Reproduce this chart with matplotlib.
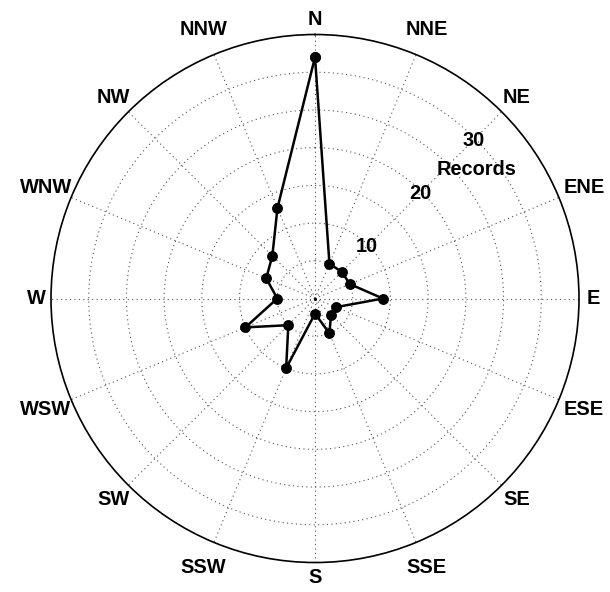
import numpy as np
import matplotlib
matplotlib.use("Agg")
import matplotlib.pyplot as plt

plt.rcParams['font.family'] = ['Liberation Sans', 'DejaVu Sans']

# wind directions, clockwise from north
directions = ['N', 'NNE', 'NE', 'ENE', 'E', 'ESE', 'SE', 'SSE',
              'S', 'SSW', 'SW', 'WSW', 'W', 'WNW', 'NW', 'NNW']
records = [32, 5, 5, 5, 9, 3, 3, 5, 2, 10, 5, 10, 5, 7, 8, 13]
ring_values = [5, 10, 15, 20, 25, 30]
ring_labels = [10, 20, 30]
r_max = 35

angles = np.deg2rad(np.arange(len(directions)) * 360.0 / len(directions))

fig = plt.figure(figsize=(6.1, 5.92), dpi=100)
ax = fig.add_axes([0.0836, 0.0498, 0.8656, 0.8919], projection='polar')
ax.set_theta_zero_location('N')
ax.set_theta_direction(-1)
ax.set_ylim(0, r_max)

# dotted grid: rings and spokes
ax.grid(False)
ax.set_xticks([])
ax.set_yticks([])
circ = np.linspace(0, 2 * np.pi, 361)
for r in ring_values:
    ax.plot(circ, np.full_like(circ, r), color='#555555', lw=0.8, ls=(0, (1, 3)), zorder=1)
for a in angles:
    ax.plot([a, a], [0, r_max], color='#555555', lw=0.8, ls=(0, (1, 3)), zorder=1)

ax.spines['polar'].set_color('black')
ax.spines['polar'].set_linewidth(1.2)

# data loop
th = np.append(angles, angles[0])
rr = np.append(records, records[0])
ax.plot(th, rr, color='black', lw=1.8, marker='o', markersize=6.8, zorder=3)
ax.plot([0], [0], 'k.', markersize=2.5, zorder=3)

# compass labels
for a, lab in zip(angles, directions):
    rl = r_max * (1.055 + 0.024 * (len(lab) - 1))
    ax.text(a, rl, lab, ha='center', va='center', fontsize=14.4,
            fontweight='bold', clip_on=False)

# radial labels
for v in ring_labels:
    ax.text(np.deg2rad(45), v - 0.3, str(v), ha='center', va='center',
            fontsize=14.4, fontweight='bold')
ax.text(np.deg2rad(51.2), 27.4, 'Records', ha='center', va='center',
        fontsize=14.4, fontweight='bold')

fig.savefig('out.png', dpi=100)
